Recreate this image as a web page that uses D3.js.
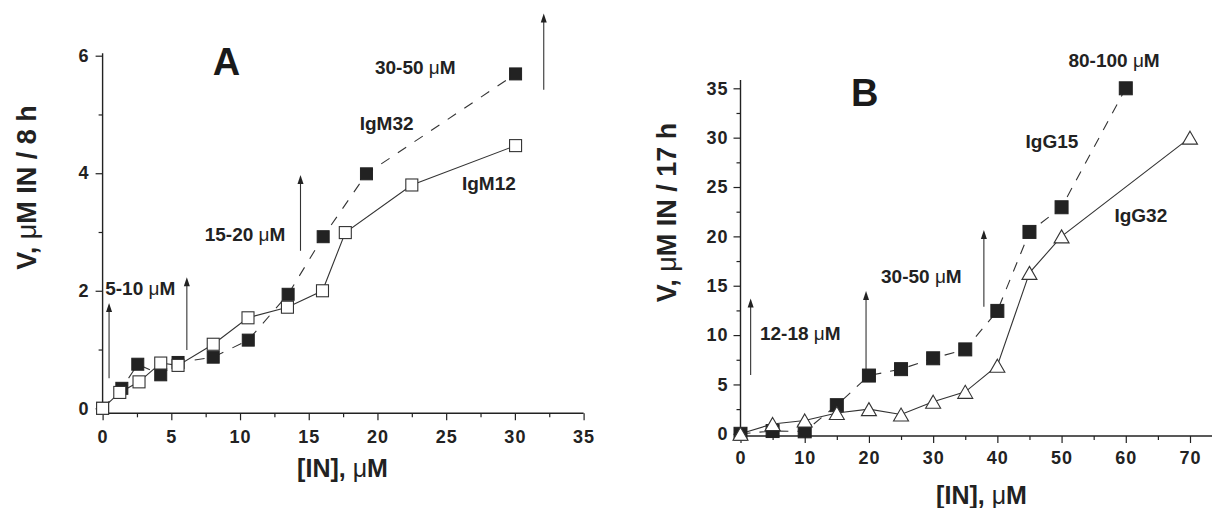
<!DOCTYPE html>
<html><head><meta charset="utf-8">
<script src="https://cdn.jsdelivr.net/npm/d3@7"></script>
<style>
body{margin:0;background:#fff;}
svg{display:block;font-family:Arial,"Liberation Sans",sans-serif;}
</style></head>
<body>
<svg id="chart" width="1212" height="508"></svg>
<script>
// ---------- Panel A data ----------
const xIgM12 = [0, 1.25, 2.65, 4.23, 5.49, 8.05, 10.58, 13.45, 16.0, 17.66, 22.5, 30.05];
const vIgM12 = [0, 0.27, 0.45, 0.77, 0.73, 1.09, 1.54, 1.72, 2.0, 2.99, 3.80, 4.47];
const xIgM32 = [0, 1.4, 2.56, 4.23, 5.49, 8.05, 10.6, 13.5, 16.05, 19.2, 30.05];
const vIgM32 = [0, 0.34, 0.75, 0.57, 0.78, 0.87, 1.16, 1.94, 2.92, 3.99, 5.69];
const xTicksA = [0, 5, 10, 15, 20, 25, 30, 35];
const xMinorA = [2.5, 7.5, 12.5, 17.5, 22.5, 27.5, 32.5];
const yTicksA = [0, 2, 4, 6];
const yMinorA = [1, 3, 5];
// annotations A: [x, y, text]
const labelsA = [[19.82, 5.69, "30-50 ", "M"], [0.19, 1.93, "5-10 ", "M"], [7.43, 2.85, "15-20 ", "M"]];
const seriesLabelsA = [[18.71, 4.74, "IgM32"], [26.15, 3.72, "IgM12"]];
const arrowsA = [[0.47, 0.51, 1.79], [6.13, 0.99, 2.23], [14.4, 2.68, 3.97], [32.1, 5.42, 6.72]];

// ---------- Panel B data ----------
const xIgG15 = [0, 5, 10, 15, 20, 25, 30, 35, 40, 45, 50, 60];
const vIgG15 = [0, 0.28, 0.25, 2.9, 5.9, 6.55, 7.65, 8.55, 12.45, 20.45, 22.95, 35.0];
const xIgG32 = [0, 5, 10, 15, 20, 25, 30, 35, 40, 45, 50, 70];
const vIgG32 = [0, 1.0, 1.35, 2.1, 2.5, 1.95, 3.25, 4.25, 6.9, 16.3, 20.0, 30.0];
const xTicksB = [0, 10, 20, 30, 40, 50, 60, 70];
const xMinorB = [5, 15, 25, 35, 45, 55, 65];
const yTicksB = [0, 5, 10, 15, 20, 25, 30, 35];
const yMinorB = [2.5, 7.5, 12.5, 17.5, 22.5, 27.5, 32.5];
const labelsB = [[51.07, 37.19, "80-100 ", "M"], [21.88, 15.31, "30-50 ", "M"], [3.03, 9.50, "12-18 ", "M"]];
const seriesLabelsB = [[44.39, 29.0, "IgG15"], [58.23, 21.48, "IgG32"]];
const arrowsB = [[1.58, 5.96, 13.7], [19.55, 6.46, 14.47], [37.9, 12.88, 20.65]];

const INK = "#222";
const svg = d3.select("#chart");
const fmt = d3.format("d");

function panel(cfg) {
  const g = svg.append("g");
  const x = d3.scaleLinear().domain(cfg.xDom).range(cfg.xRange);
  const y = d3.scaleLinear().domain(cfg.yDom).range(cfg.yRange);
  const axisY = cfg.axisY, axisX = cfg.axisX;

  // axes lines
  g.append("line").attr("x1", x(cfg.xDom[0])).attr("x2", cfg.xAxisEnd)
    .attr("y1", axisY).attr("y2", axisY).attr("stroke", INK).attr("stroke-width", 1.4);
  g.append("line").attr("x1", axisX).attr("x2", axisX)
    .attr("y1", axisY).attr("y2", y(cfg.yTop)).attr("stroke", INK).attr("stroke-width", 1.4);

  // x axis major
  const gx = g.append("g").attr("transform", `translate(0,${axisY})`)
    .call(d3.axisBottom(x).tickValues(cfg.xTicks).tickFormat(fmt).tickSize(7).tickPadding(cfg.xPad).tickSizeOuter(0));
  gx.select(".domain").remove();
  gx.selectAll("line").attr("stroke", INK).attr("stroke-width", 1.2);
  gx.selectAll("text").attr("font-size", 18).attr("font-weight", "bold").attr("fill", INK)
    .attr("letter-spacing", "1px");
  const gxm = g.append("g").attr("transform", `translate(0,${axisY})`)
    .call(d3.axisBottom(x).tickValues(cfg.xMinor).tickSize(4).tickFormat(""));
  gxm.select(".domain").remove();
  gxm.selectAll("line").attr("stroke", INK).attr("stroke-width", 1.2);

  // y axis
  const gy = g.append("g").attr("transform", `translate(${axisX},0)`)
    .call(d3.axisLeft(y).tickValues(cfg.yTicks).tickFormat(fmt).tickSize(7).tickPadding(cfg.yPad).tickSizeOuter(0));
  gy.select(".domain").remove();
  gy.selectAll("line").attr("stroke", INK).attr("stroke-width", 1.2);
  gy.selectAll("text").attr("font-size", 18).attr("font-weight", "bold").attr("fill", INK)
    .attr("letter-spacing", "1px");
  const gym = g.append("g").attr("transform", `translate(${axisX},0)`)
    .call(d3.axisLeft(y).tickValues(cfg.yMinor).tickSize(4).tickFormat(""));
  gym.select(".domain").remove();
  gym.selectAll("line").attr("stroke", INK).attr("stroke-width", 1.2);

  // titles
  const xt = g.append("text").attr("x", cfg.xTitle[0]).attr("y", cfg.xTitle[1])
    .attr("text-anchor", "middle").attr("font-size", 25).attr("font-weight", "bold").attr("fill", INK);
  xt.append("tspan").text("[IN], ");
  xt.append("tspan").attr("font-weight", "normal").text("\u03bc");
  xt.append("tspan").text("M");

  const yt = g.append("text").attr("transform", `translate(${cfg.yTitle[0]},${cfg.yTitle[1]}) rotate(-90)`)
    .attr("text-anchor", "middle").attr("font-size", 27).attr("font-weight", "bold").attr("fill", INK);
  yt.append("tspan").text("V, ");
  yt.append("tspan").attr("font-weight", "normal").text("\u03bc");
  yt.append("tspan").text(cfg.yTitleRest);

  g.append("text").attr("x", x(cfg.letter[0])).attr("y", y(cfg.letter[1]))
    .attr("text-anchor", "middle").attr("font-size", 38).attr("font-weight", "bold")
    .attr("fill", "#1a1a1a").text(cfg.letter[2]);

  // arrows
  cfg.arrows.forEach(a => {
    const ax = x(a[0]), yb = y(a[1]), yt2 = y(a[2]);
    g.append("line").attr("x1", ax).attr("x2", ax).attr("y1", yb).attr("y2", yt2 + 7)
      .attr("stroke", "#333").attr("stroke-width", 1.1);
    g.append("path").attr("d", `M${ax},${yt2} L${ax - 3},${yt2 + 9} L${ax + 3},${yt2 + 9} Z`)
      .attr("fill", "#222");
  });

  // labels
  cfg.labels.forEach(l => {
    const t = g.append("text").attr("x", x(l[0])).attr("y", y(l[1]))
      .attr("font-size", 19).attr("font-weight", "bold").attr("fill", INK);
    t.append("tspan").text(l[2]);
    t.append("tspan").attr("font-weight", "normal").text("\u03bc");
    t.append("tspan").text(l[3]);
  });
  cfg.seriesLabels.forEach(l => {
    g.append("text").attr("x", x(l[0])).attr("y", y(l[1]))
      .attr("font-size", 19).attr("font-weight", "bold").attr("fill", INK).text(l[2]);
  });

  return {g, x, y};
}

// ---------- Panel A ----------
const A = panel({
  xDom: [0, 35], xRange: [102.6, 583.6], yDom: [0, 6], yRange: [408.3, 55.7],
  axisY: 413.3, axisX: 102.6, xAxisEnd: 583.6, yTop: 6.04,
  xTicks: xTicksA, xMinor: xMinorA, yTicks: yTicksA, yMinor: yMinorA,
  xPad: 10, yPad: 6,
  xTitle: [342.5, 476.5], yTitle: [36.4, 187.5], yTitleRest: "M IN / 8 h",
  letter: [9.02, 5.67, "A"], arrows: arrowsA, labels: labelsA, seriesLabels: seriesLabelsA
});
{
  const {g, x, y} = A;
  const d32 = xIgM32.map((v, i) => [v, vIgM32[i]]);
  const d12 = xIgM12.map((v, i) => [v, vIgM12[i]]);
  const line = d3.line().x(d => x(d[0])).y(d => y(d[1]));
  g.append("path").datum(d32).attr("d", line).attr("fill", "none").attr("stroke", "#333")
    .attr("stroke-width", 1.1).attr("stroke-dasharray", "10,10");
  g.append("path").datum(d12).attr("d", line).attr("fill", "none").attr("stroke", "#333")
    .attr("stroke-width", 1.1);
  const s = 12;
  g.selectAll(".f").data(d32).enter().append("rect")
    .attr("x", d => x(d[0]) - s / 2).attr("y", d => y(d[1]) - s / 2)
    .attr("width", s).attr("height", s).attr("fill", "#222").attr("stroke", "#222");
  g.selectAll(".o").data(d12).enter().append("rect")
    .attr("x", d => x(d[0]) - s / 2).attr("y", d => y(d[1]) - s / 2)
    .attr("width", s).attr("height", s).attr("fill", "#fff").attr("stroke", "#333").attr("stroke-width", 1.1);
}

// ---------- Panel B ----------
const B = panel({
  xDom: [0, 70], xRange: [740.5, 1190], yDom: [0, 35], yRange: [433.8, 88.3],
  axisY: 436, axisX: 740.5, xAxisEnd: 1212, yTop: 35.84,
  xTicks: xTicksB, xMinor: xMinorB, yTicks: yTicksB, yMinor: yMinorB,
  xPad: 8, yPad: 5,
  xTitle: [981.5, 504], yTitle: [676, 212.5], yTitleRest: "M IN / 17 h",
  letter: [19.34, 33.2, "B"], arrows: arrowsB, labels: labelsB, seriesLabels: seriesLabelsB
});
{
  const {g, x, y} = B;
  const d15 = xIgG15.map((v, i) => [v, vIgG15[i]]);
  const d32 = xIgG32.map((v, i) => [v, vIgG32[i]]);
  const line = d3.line().x(d => x(d[0])).y(d => y(d[1]));
  g.append("path").datum(d15).attr("d", line).attr("fill", "none").attr("stroke", "#333")
    .attr("stroke-width", 1.1).attr("stroke-dasharray", "10,9");
  g.append("path").datum(d32).attr("d", line).attr("fill", "none").attr("stroke", "#333")
    .attr("stroke-width", 1.1);
  const s = 13;
  g.selectAll(".f").data(d15).enter().append("rect")
    .attr("x", d => x(d[0]) - s / 2).attr("y", d => y(d[1]) - s / 2)
    .attr("width", s).attr("height", s).attr("fill", "#222").attr("stroke", "#222");
  const tw = 15, th = 13;
  g.selectAll(".t").data(d32).enter().append("path")
    .attr("d", d => {
      const cx = x(d[0]), cy = y(d[1]);
      return `M${cx},${cy - th / 2} L${cx + tw / 2},${cy + th / 2} L${cx - tw / 2},${cy + th / 2} Z`;
    })
    .attr("fill", "#fff").attr("stroke", "#333").attr("stroke-width", 1.1);
}
</script>
</body></html>
